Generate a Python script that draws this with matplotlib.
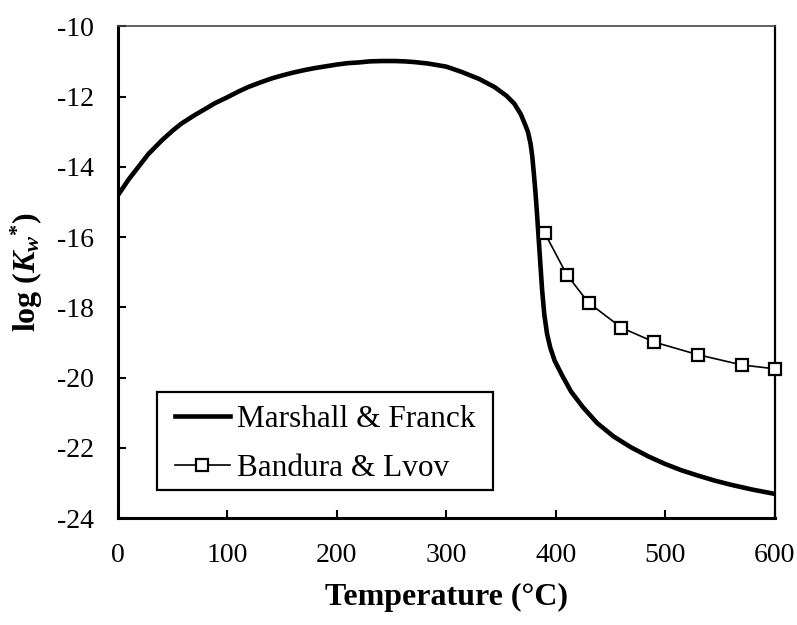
import matplotlib
matplotlib.use('Agg')
from matplotlib import pyplot as plt
from matplotlib.patches import Rectangle

# Marshall & Franck curve
mf_t = [0, 10, 20, 28, 40, 50, 58, 70, 80, 88, 100, 110, 119, 130, 140, 150, 160, 170, 180,
        190, 200, 210, 220, 230, 241, 253, 262, 271, 283, 300, 314, 330, 344, 355, 362,
        368, 372, 374.5, 377, 378.5, 380, 381.5, 383, 384.5, 386, 387.5, 389.5, 392, 395,
        399, 406, 414, 425, 438, 453, 469, 485, 500, 515, 530, 545, 560, 580, 600]
mf_y = [-14.81, -14.35, -13.95, -13.63, -13.25, -12.97, -12.77, -12.53, -12.35, -12.20,
        -12.02, -11.86, -11.73, -11.60, -11.49, -11.40, -11.32, -11.25, -11.19,
        -11.14, -11.09, -11.05, -11.03, -11.00, -10.99, -10.99, -11.00, -11.02,
        -11.06, -11.15, -11.30, -11.50, -11.73, -11.98, -12.20,
        -12.50, -12.80, -13.00, -13.35, -13.70, -14.20, -14.75, -15.40, -16.10, -16.80, -17.50,
        -18.20, -18.75, -19.15,
        -19.52, -19.95, -20.40, -20.85, -21.30, -21.68, -21.99, -22.25, -22.46, -22.64, -22.79,
        -22.93, -23.05, -23.19, -23.31]

# Bandura & Lvov points
bl_t = [390, 410, 430, 460, 490, 530, 570, 600]
bl_y = [-15.89, -17.07, -17.87, -18.58, -18.99, -19.35, -19.64, -19.75]

plt.rcParams['font.family'] = 'Liberation Serif'
plt.rcParams['axes.unicode_minus'] = False
plt.rcParams['mathtext.fontset'] = 'custom'
plt.rcParams['mathtext.it'] = 'Liberation Serif:italic:bold'
plt.rcParams['mathtext.rm'] = 'Liberation Serif:bold'
plt.rcParams['mathtext.bf'] = 'Liberation Serif:bold'

fig = plt.figure(figsize=(7.97, 6.25), dpi=100)
ax = fig.add_axes([0.148, 0.171, 0.824, 0.787])

ax.plot(mf_t, mf_y, color='black', lw=3.3, solid_joinstyle='round', label='Marshall & Franck')
ax.plot(bl_t, bl_y, color='black', lw=1.2, marker='s', markersize=8.5,
        markerfacecolor='white', markeredgecolor='black', markeredgewidth=1.6,
        label='Bandura & Lvov', clip_on=False, zorder=3)

ax.set_xlim(0, 600)
ax.set_ylim(-24, -10)
ax.set_xticks(range(0, 601, 100))
ax.set_yticks(range(-24, -9, 2))
ax.tick_params(direction='in', length=6, width=1.5, labelsize=20)
ax.tick_params(axis='x', pad=18)
ax.tick_params(axis='y', pad=17)

ax.spines['left'].set_linewidth(2.2)
ax.spines['bottom'].set_linewidth(2.2)
ax.spines['right'].set_linewidth(1.6)
ax.spines['top'].set_linewidth(1.2)
ax.spines['top'].set_color('#444444')

ax.set_xlabel('Temperature (°C)', fontsize=23, fontweight='bold', labelpad=11)
ax.set_ylabel(r'log ($K_{w}{}^{*}$)', fontsize=23, fontweight='bold', labelpad=9)

# legend box (drawn separately so the padding can differ per side)
ax.add_patch(Rectangle((0.0594, 0.0569), 0.5114, 0.1992, transform=ax.transAxes,
                       facecolor='white', edgecolor='black', lw=1.6, zorder=4))
leg = ax.legend(loc='upper left', bbox_to_anchor=(0.0868, 0.231), fontsize=22.5,
                frameon=False, handlelength=1.75, handletextpad=0.22, borderpad=0,
                labelspacing=0.66, borderaxespad=0)
leg.set_zorder(5)

fig.savefig('out.png', dpi=100)
